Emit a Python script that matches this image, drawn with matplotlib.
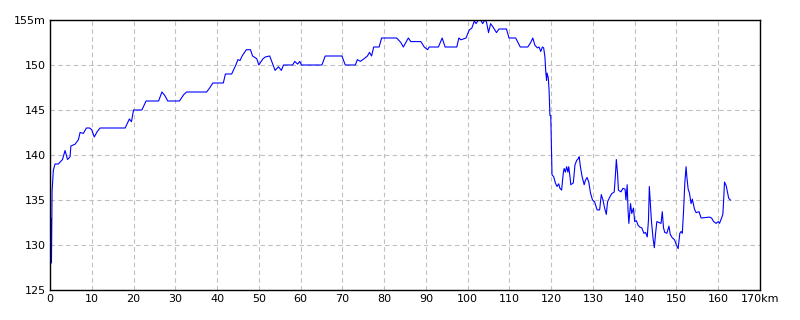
import matplotlib
matplotlib.use("Agg")
import matplotlib.pyplot as plt

distance_km = [
    0.0, 0.15, 0.3, 0.35, 0.5, 0.8, 1.2, 2.0, 3.0, 3.6, 4.2, 4.8, 5.0, 6.0, 6.8, 7.2,
    8.0, 8.7, 9.5, 10.0, 10.6, 11.3, 12.0, 18.0, 19.0, 19.5, 20.0, 22.0, 23.0, 26.0,
    26.8, 27.5, 28.2, 31.0, 32.0, 32.7, 37.5, 38.3, 39.0, 41.5, 42.0, 43.5, 44.5, 45.0,
    45.5, 46.0, 47.0, 48.0, 48.5, 49.5, 50.0, 51.0, 51.6, 52.6, 53.9, 54.7, 55.4, 55.9,
    58.1, 58.6, 59.3, 59.8, 60.2, 65.1, 65.9, 69.9, 70.7, 73.1, 73.6, 74.3, 75.2, 76.0,
    76.5, 77.0, 77.5, 78.8, 79.4, 83.0, 84.0, 84.6, 85.8, 86.4, 88.8, 89.6, 90.4, 90.8,
    93.0, 93.9, 94.6, 97.4, 97.9, 98.4, 99.6, 100.4, 101.0, 101.6, 102.0, 102.6, 103.1,
    103.6, 104.1, 104.5, 105.0, 105.5, 106.1, 106.9, 107.5, 109.3, 109.9, 111.5, 112.6,
    114.4, 115.1, 115.6, 116.1, 116.7, 117.1, 117.5, 117.9, 118.2, 118.5, 118.7, 118.9,
    119.0, 119.3, 119.5, 119.7, 119.9, 120.1, 120.2, 120.6, 121.0, 121.4, 121.8, 122.1,
    122.5, 122.9, 123.1, 123.4, 123.7, 124.0, 124.2, 124.5, 124.7, 125.3, 125.7, 126.1,
    126.5, 126.7, 127.0, 127.4, 127.9, 128.2, 128.6, 129.0, 129.4, 129.9, 130.4, 131.0,
    131.6, 132.0, 132.4, 132.8, 133.2, 133.5, 134.0, 134.5, 135.1, 135.4, 135.6, 135.9,
    136.1, 136.7, 137.2, 137.7, 137.9, 138.2, 138.4, 138.6, 139.0, 139.3, 139.7, 140.0,
    140.4, 140.8, 141.2, 141.7, 142.2, 142.6, 143.0, 143.3, 143.5, 143.7, 144.0, 144.4,
    144.7, 145.0, 145.3, 145.8, 146.3, 146.6, 146.9, 147.2, 147.7, 148.2, 148.5, 149.0,
    149.5, 150.0, 150.4, 150.8, 151.1, 151.4, 151.7, 152.0, 152.3, 152.5, 152.8, 153.1,
    153.5, 153.8, 154.3, 154.7, 155.4, 155.9, 157.9, 158.4, 158.9, 159.5, 160.0, 160.3,
    160.8, 161.1, 161.3, 161.5, 161.9, 162.2, 162.5, 162.9,
]

elevation_m = [
    125.0, 133.0, 128.0, 128.0, 136.0, 138.3, 139.0, 139.0, 139.5, 140.5, 139.5, 139.8,
    141.0, 141.2, 141.7, 142.5, 142.4, 143.0, 143.0, 142.8, 142.0, 142.6, 143.0, 143.0,
    144.0, 143.7, 145.0, 145.0, 146.0, 146.0, 147.0, 146.6, 146.0, 146.0, 146.7, 147.0,
    147.0, 147.5, 148.0, 148.0, 149.0, 149.0, 150.0, 150.6, 150.5, 151.0, 151.7, 151.7,
    151.0, 150.7, 150.0, 150.7, 150.9, 151.0, 149.4, 149.8, 149.4, 150.0, 150.0, 150.4,
    150.1, 150.4, 150.0, 150.0, 151.0, 151.0, 150.0, 150.0, 150.6, 150.4, 150.7, 151.0,
    151.4, 151.0, 152.0, 152.0, 153.0, 153.0, 152.5, 152.0, 153.0, 152.6, 152.6, 152.0,
    151.7, 152.0, 152.0, 153.0, 152.0, 152.0, 153.0, 152.8, 153.0, 153.9, 154.1, 154.9,
    154.6, 155.0, 155.0, 154.6, 155.0, 154.8, 153.6, 154.6, 154.2, 153.6, 154.0, 154.0,
    153.0, 153.0, 152.0, 152.0, 152.5, 153.0, 152.2, 151.9, 152.0, 151.5, 152.0, 151.9,
    150.9, 149.3, 148.3, 149.1, 148.6, 147.2, 144.4, 144.4, 140.0, 137.8, 137.6, 136.9,
    136.5, 136.8, 136.3, 136.1, 138.0, 138.5, 138.1, 138.7, 138.1, 138.7, 137.6, 136.7,
    136.9, 138.9, 139.4, 139.6, 139.8, 138.7, 137.6, 136.7, 137.2, 137.5, 137.0, 135.8,
    135.0, 134.8, 133.9, 133.9, 135.6, 135.0, 134.1, 133.4, 134.8, 135.3, 135.7, 135.9,
    137.9, 139.5, 137.9, 136.1, 135.9, 136.3, 136.2, 135.0, 136.7, 133.9, 132.4, 134.6,
    133.5, 134.1, 132.6, 132.7, 132.2, 132.0, 131.9, 131.3, 131.4, 130.9, 132.8, 136.5,
    135.0, 132.7, 130.7, 129.7, 131.3, 132.6, 132.5, 132.4, 133.7, 131.9, 131.4, 131.3,
    132.1, 131.2, 130.8, 130.6, 130.0, 129.6, 131.3, 131.5, 131.3, 133.8, 136.9, 138.7,
    137.5, 136.2, 135.8, 134.6, 135.1, 134.0, 133.6, 133.7, 133.0, 133.1, 133.0, 132.6,
    132.4, 132.6, 132.4, 133.0, 133.4, 135.0, 137.0, 136.6, 135.9, 135.2, 135.0,
]

x_ticks = list(range(0, 171, 10))
x_labels = [str(v) for v in x_ticks[:-1]] + ["170km"]
y_ticks = list(range(125, 156, 5))
y_labels = [str(v) for v in y_ticks[:-1]] + ["155m"]

fig = plt.figure(figsize=(8, 3.2), dpi=100)
ax = fig.add_axes([0.0625, 0.09375, 0.8875, 0.84375])
ax.plot(distance_km, elevation_m, color="#0000FF", linewidth=0.8)
ax.set_xlim(0, 170)
ax.set_ylim(125, 155)
ax.set_xticks(x_ticks)
ax.set_xticklabels(x_labels)
ax.set_yticks(y_ticks)
ax.set_yticklabels(y_labels)
ax.grid(True, color="#C0C0C0", linestyle=(0, (4, 3)), linewidth=0.8)
ax.tick_params(length=0, labelsize=8, pad=3, colors="black")
for s in ax.spines.values():
    s.set_color("black")
    s.set_linewidth(1.0)
fig.savefig("out.png", dpi=100)
